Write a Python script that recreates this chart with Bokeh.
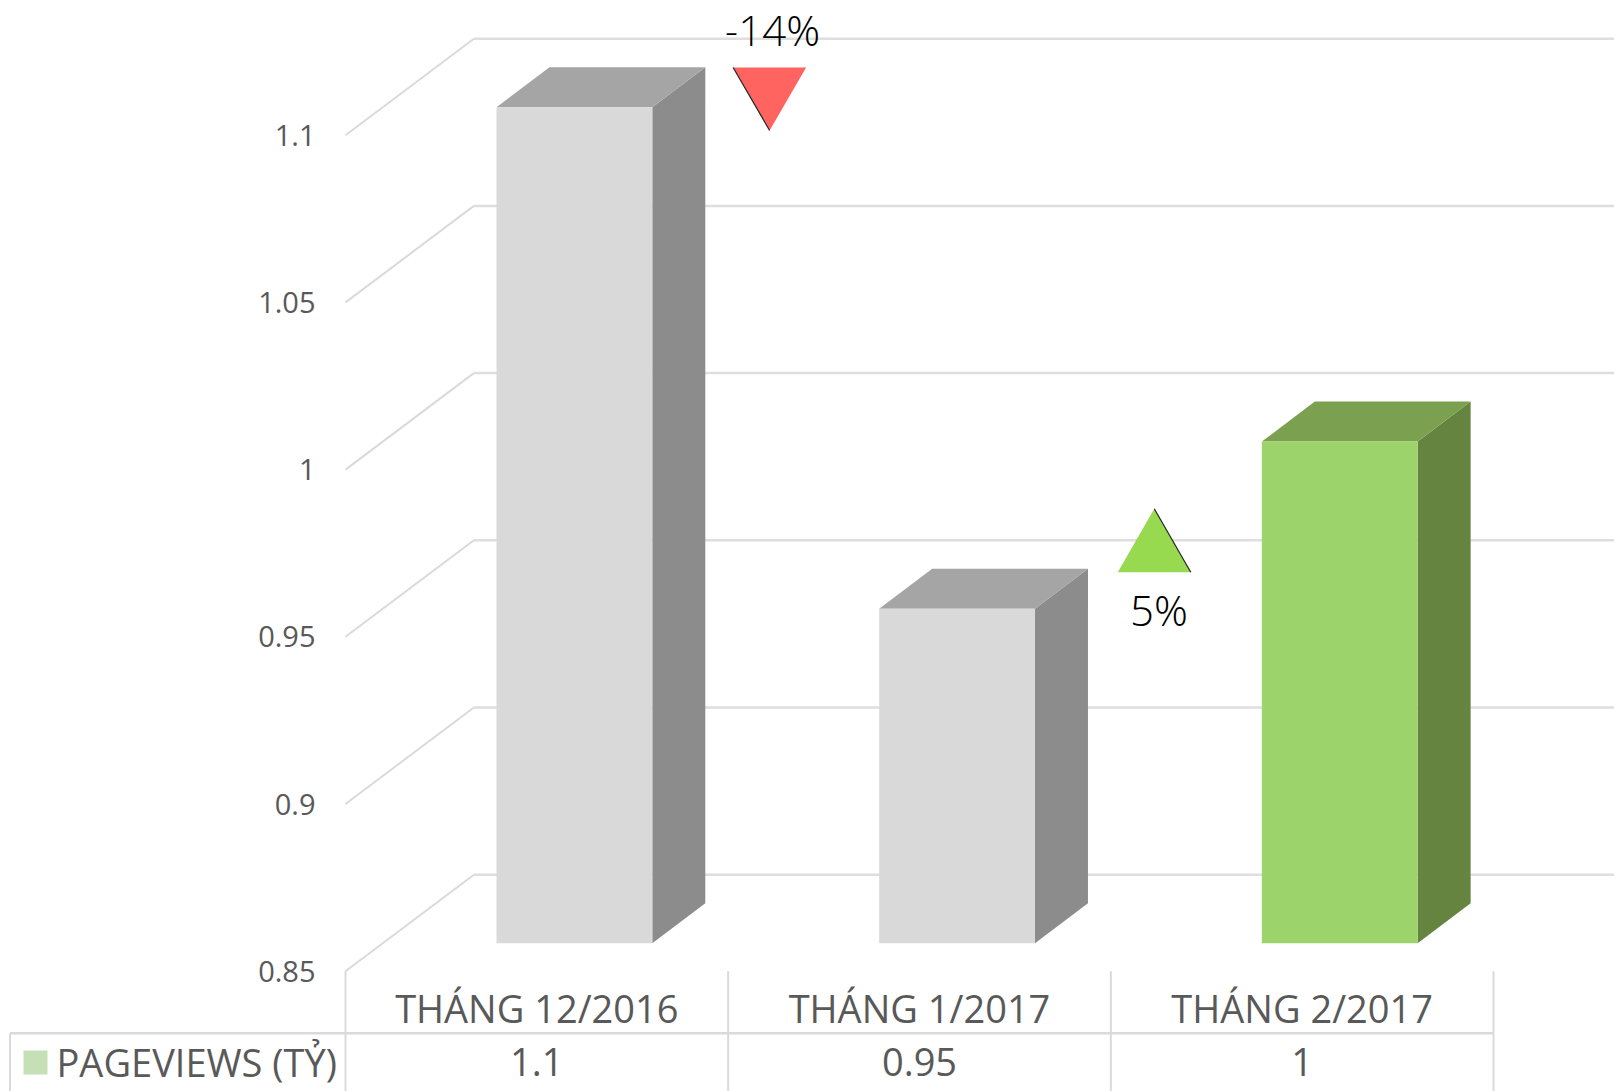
from bokeh.embed import file_html
from bokeh.resources import INLINE
from bokeh.plotting import figure
from bokeh.models import LinearAxis, FixedTicker, Range1d
from bokeh.core.properties import value

categories = ["THÁNG 12/2016", "THÁNG 1/2017", "THÁNG 2/2017"]
pageviews = [1.1, 0.95, 1.0]
pageview_labels = ["1.1", "0.95", "1"]
y_ticks = [0.85, 0.9, 0.95, 1.0, 1.05, 1.1]
y_tick_labels = ["0.85", "0.9", "0.95", "1", "1.05", "1.1"]
series_name = "PAGEVIEWS (TỶ)"
change_labels = ["-14%", "5%"]
front_colors = ["#D9D9D9", "#D9D9D9", "#9DD36B"]
top_colors = ["#A5A5A5", "#A5A5A5", "#7BA150"]
side_colors = ["#8C8C8C", "#8C8C8C", "#658440"]

FONT = value("Open Sans")
TEXT = "#595959"
GRID = "#DADADA"
W, H = 1614, 1091
ORIGIN = 0
X0, CELL = 345.0, 382.67      # page x of category 0 edge, px per category
Y0, UNIT = 970.7, 3344.0      # page y of value 0.85 at the wall front, px per unit


def px(X):
    return (X - X0) / CELL


def py(Y):
    return 0.85 + (Y0 - Y) / UNIT


p = figure(width=W, height=H, output_backend="svg", toolbar_location=None,
           x_range=Range1d(px(ORIGIN), px(ORIGIN + W)), y_range=Range1d(py(ORIGIN + H), py(ORIGIN)),
           x_axis_type=None, y_axis_type=None, min_border=0,
           outline_line_color=None, background_fill_color="white")
p.grid.visible = False

# value axis, standing free inside the frame
ya = LinearAxis(fixed_location=0.0, ticker=FixedTicker(ticks=y_ticks),
                major_label_overrides=dict(zip(y_ticks, y_tick_labels)))
ya.axis_line_color = None
ya.major_tick_line_color = None
ya.minor_tick_line_color = None
ya.major_label_standoff = 24
ya.major_label_text_font = "Open Sans"
ya.major_label_text_font_size = "29px"
ya.major_label_text_color = TEXT
p.add_layout(ya, "left")

# category axis
cat_pos = [i + 0.5 for i in range(len(categories))]
xa = LinearAxis(fixed_location=0.85, ticker=FixedTicker(ticks=cat_pos),
                major_label_overrides=dict(zip(cat_pos, categories)))
xa.axis_line_color = None
xa.major_tick_line_color = None
xa.minor_tick_line_color = None
xa.major_label_standoff = 5
xa.major_label_text_font = "Open Sans"
xa.major_label_text_font_size = "38px"
xa.major_label_text_color = TEXT
p.add_layout(xa, "below")

# wall and floor lines
wall_dx, wall_dy = 128.4 / CELL, 96.5 / UNIT
p.multi_line([[0, wall_dx] for _ in y_ticks],
             [[t, t + wall_dy] for t in y_ticks],
             line_color=GRID, line_width=2)
p.multi_line([[wall_dx, px(ORIGIN + W)] for _ in y_ticks],
             [[t + wall_dy, t + wall_dy] for t in y_ticks],
             line_color="#DEDEDE", line_width=2.5)

# table lines
table_bottom = py(ORIGIN + H)
table_top = py(1032.7)
for i in range(len(categories) + 1):
    p.line([i, i], [0.85, table_bottom], line_color=GRID, line_width=2)
p.line([px(9.5), len(categories)], [table_top, table_top], line_color=GRID, line_width=2.5)
p.line([px(9.5), px(9.5)], [table_top, table_bottom], line_color=GRID, line_width=2)

# 3D columns
bar_off, bar_w = 151.0 / CELL, 155.8 / CELL
d_x, d_y = 53.0 / CELL, 40.0 / UNIT
front_shift = 28.0 / UNIT
base = 0.85 + front_shift
for i, v in enumerate(pageviews):
    L, R, T = i + bar_off, i + bar_off + bar_w, v + front_shift
    p.patch([R, R + d_x, R + d_x, R], [T, T + d_y, base + d_y, base],
            fill_color=side_colors[i], line_color=None)
    p.patch([L, R, R + d_x, L + d_x], [T, T, T + d_y, T + d_y],
            fill_color=top_colors[i], line_color=None)
    p.quad(left=L, right=R, top=T, bottom=base, fill_color=front_colors[i], line_color=None)

# change markers
half = 36.5 / CELL
off = 0.1083
# red, pointing down, between column 1 and 2
rx, rt, ra = 1 + off, py(67), py(130)
p.patch([rx - half, rx + half, rx], [rt, rt, ra], fill_color="#FF6460", line_color=None)
p.line([rx - half, rx], [rt, ra], line_color="#222222", line_width=1.2)
# green, pointing up, between column 2 and 3
gx, gb, ga = 2 + off + 2 / CELL, py(571.7), py(508.3)
p.patch([gx - half, gx + half, gx], [gb, gb, ga], fill_color="#97D94F", line_color=None)
p.line([gx, gx + half], [ga, gb], line_color="#222222", line_width=1.2)

p.text([px(772), px(1158.5)], [py(29), py(609)], text=change_labels, text_font=value("Open Sans Light"),
       text_font_size="42px", text_color="#000000", text_align="center", text_baseline="middle")

# data table row
p.quad(left=px(23), right=px(47), top=py(1050), bottom=py(1074), fill_color="#C5E0B4", line_color=None)
p.text([px(56)], [py(1061)], text=[series_name], text_font=FONT, text_font_size="38px",
       text_color=TEXT, text_align="left", text_baseline="middle")
p.text(cat_pos, [py(1061)] * 3, text=pageview_labels, text_font=FONT, text_font_size="38px",
       text_color=TEXT, text_align="center", text_baseline="middle")

open("out.html", "w").write(file_html(p, INLINE))
